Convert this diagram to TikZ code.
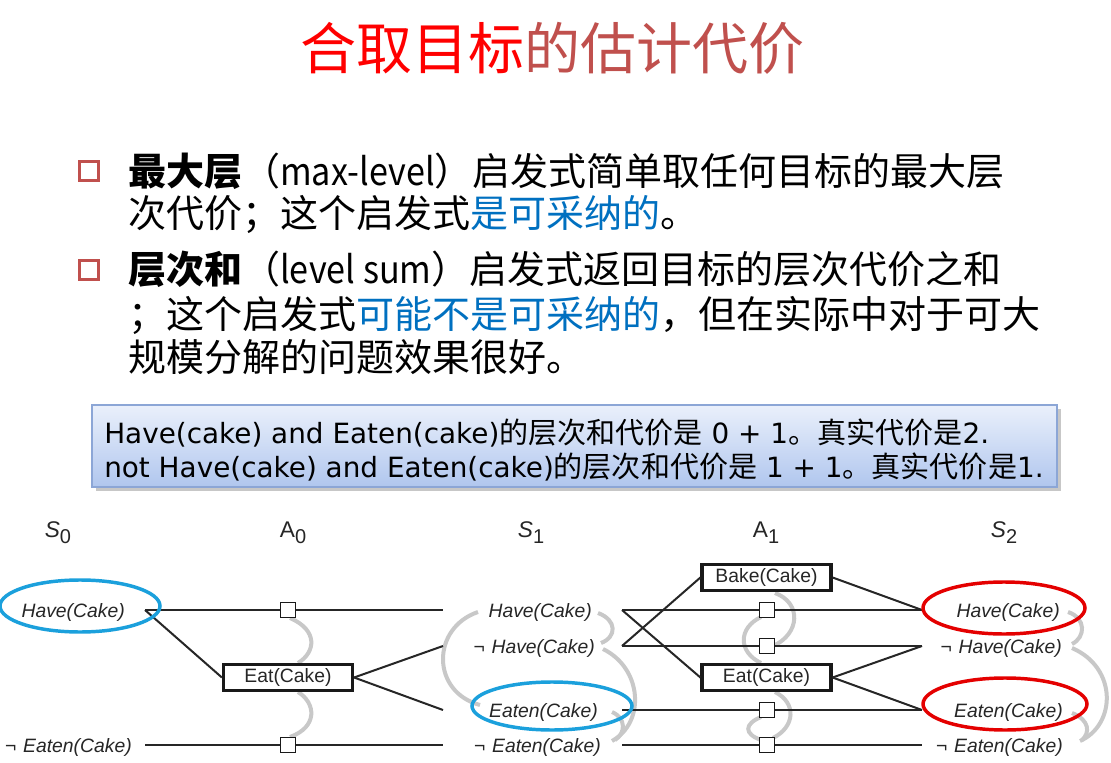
\documentclass[tikz,border=0pt]{standalone}
\usepackage{fontspec}
\usepackage{graphicx}
\setmainfont{Liberation Sans}
\newfontfamily\cjk{Noto Sans CJK SC}
\newfontfamily\vfont{DejaVu Sans}
\usetikzlibrary{shapes.geometric}
\definecolor{titlered}{RGB}{255,0,0}
\definecolor{titlebrown}{RGB}{192,80,77}
\definecolor{linkblue}{RGB}{0,112,192}
\definecolor{ellblue}{RGB}{27,160,220}
\definecolor{ellred}{RGB}{228,0,0}
\definecolor{mutexgray}{RGB}{200,200,200}
\definecolor{boxtop}{RGB}{234,240,251}
\definecolor{boxbot}{RGB}{176,198,238}
\definecolor{boxline}{RGB}{140,166,214}
\newcommand\boxlatin[1]{{\vfont\fontsize{20.9}{26}\selectfont #1}}
\newcommand\bulletlatin[1]{\scalebox{0.9}[1]{#1}}
\begin{document}
\begin{tikzpicture}[x=0.75pt,y=-0.75pt,
  lbl/.style={font=\itshape\fontsize{14.5}{17}\selectfont, inner sep=0, anchor=base east, text=black!85},
  hdr/.style={font=\fontsize{17}{20}\selectfont, inner sep=0, anchor=base, text=black!85},
  actbox/.style={draw=black!90, line width=2.4pt, fill=white, minimum width=96.75pt, minimum height=19pt, inner sep=0, font=\fontsize{14.5}{17}\selectfont, text=black!85},
  persq/.style={draw=black!90, line width=1.4pt, fill=white, minimum size=11.25pt, inner sep=0},
  conn/.style={line width=1.5pt, draw=black!85},
  mutex/.style={line width=3pt, draw=mutexgray},
  hl/.style={line width=2.6pt},
  bt/.style={font=\cjk\fontsize{28.5}{34}\selectfont, inner sep=0, anchor=base west},
  boxtxt/.style={font=\cjk\fontsize{21.8}{26}\selectfont, inner sep=0, anchor=base west},
  bulletsq/.style={draw=titlebrown, line width=2pt, minimum size=14pt, inner sep=0}
]
\useasboundingbox (0,0) rectangle (1111,763);
\fill[white] (0,0) rectangle (1111,763);

% title
\node[inner sep=0] (title) at (552,48) {\cjk\fontsize{42}{50}\selectfont\textcolor{titlered}{合取目标}\textcolor{titlebrown}{的估计代价}};

% bullets
\node[bulletsq] (b1) at (89,171) {};
\node[bulletsq] (b2) at (89,270) {};
\node[bt] (l1) at (128,186) {{\bfseries 最大层}（\bulletlatin{max-level}）启发式简单取任何目标的最大层};
\node[bt] (l2) at (128,228) {次代价；这个启发式\textcolor{linkblue}{是可采纳的}。};
\node[bt] (l3) at (128,284) {{\bfseries 层次和}（\bulletlatin{level sum}）启发式返回目标的层次代价之和};
\node[bt] (l4) at (128,329) {；这个启发式\textcolor{linkblue}{可能不是可采纳的}，但在实际中对于可大};
\node[bt] (l5) at (128,371) {规模分解的问题效果很好。};

% explanation box
\fill[black!22] (96,409) rectangle (1061,491);
\shade[top color=boxtop, bottom color=boxbot, draw=boxline, line width=0.8pt] (92,405) rectangle (1057,487);
\node[boxtxt] (t1) at (104,443) {\boxlatin{Have(cake) and Eaten(cake)}的层次和代价是\boxlatin{ 0 + 1}。真实代价是\boxlatin{2.}};
\node[boxtxt] (t2) at (104,477) {\boxlatin{not Have(cake) and Eaten(cake)}的层次和代价是\boxlatin{ 1 + 1}。真实代价是\boxlatin{1.}};

% headers
\node[hdr] (hs0) at (58,537) {\textit{S}\raisebox{-5pt}{\fontsize{15}{16}\selectfont 0}};
\node[hdr] (ha0) at (293,537) {A\raisebox{-5pt}{\fontsize{15}{16}\selectfont 0}};
\node[hdr] (hs1) at (531,537) {\textit{S}\raisebox{-5pt}{\fontsize{15}{16}\selectfont 1}};
\node[hdr] (ha1) at (766,537) {A\raisebox{-5pt}{\fontsize{15}{16}\selectfont 1}};
\node[hdr] (hs2) at (1004,537) {\textit{S}\raisebox{-5pt}{\fontsize{15}{16}\selectfont 2}};

% mutex links
\draw[mutex] (290,618) .. controls (318,630) and (316,652) .. (298,663);
\draw[mutex] (298,692) .. controls (316,703) and (318,727) .. (290,737);
\draw[mutex] (478,612) .. controls (431,628) and (431,692) .. (480,705);
\draw[mutex] (598,613) .. controls (617,620) and (617,637) .. (601,643);
\draw[mutex] (603,649) .. controls (642,668) and (646,722) .. (612,741);
\draw[mutex] (612,712) .. controls (626,718) and (626,733) .. (615,740);
\draw[mutex] (775,593) .. controls (802,603) and (800,634) .. (773,646);
\draw[mutex] (761,617) .. controls (738,628) and (738,652) .. (761,663);
\draw[mutex] (775,692) .. controls (797,703) and (795,727) .. (773,738);
\draw[mutex] (761,717) .. controls (744,724) and (744,734) .. (761,740);
\draw[mutex] (1068,612) .. controls (1086,618) and (1086,637) .. (1072,644);
\draw[mutex] (1072,648) .. controls (1118,668) and (1116,725) .. (1080,741);
\draw[mutex] (1072,713) .. controls (1090,720) and (1090,733) .. (1082,740);

% line end points
\coordinate (s0hR) at (145,610);
\coordinate (s0neR) at (145,745);
\coordinate (s1hL) at (443,610);
\coordinate (s1nhL) at (443,646);
\coordinate (s1eL) at (443,710);
\coordinate (s1neL) at (443,745);
\coordinate (s1hR) at (622,610);
\coordinate (s1nhR) at (622,646);
\coordinate (s1eR) at (622,710);
\coordinate (s1neR) at (622,745);
\coordinate (s2hL) at (922,610);
\coordinate (s2nhL) at (922,646);
\coordinate (s2eL) at (922,710);
\coordinate (s2neL) at (922,745);

% actions and persistence squares
\node[actbox] (eat0) at (288,677.5) {Eat(Cake)};
\node[actbox] (bake1) at (766.5,577.5) {Bake(Cake)};
\node[actbox] (eat1) at (766.5,677.5) {Eat(Cake)};
\node[persq] (pa0h) at (288,610) {};
\node[persq] (pa0ne) at (288,745) {};
\node[persq] (pa1h) at (767,610) {};
\node[persq] (pa1nh) at (767,646) {};
\node[persq] (pa1e) at (767,710) {};
\node[persq] (pa1ne) at (767,745) {};

% connectors
\draw[conn] (s0hR) -- (pa0h) -- (s1hL);
\draw[conn] (s0neR) -- (pa0ne) -- (s1neL);
\draw[conn] (s0hR) -- (eat0.west);
\draw[conn] (eat0.east) -- (s1nhL);
\draw[conn] (eat0.east) -- (s1eL);
\draw[conn] (s1hR) -- (pa1h) -- (s2hL);
\draw[conn] (s1nhR) -- (pa1nh) -- (s2nhL);
\draw[conn] (s1eR) -- (pa1e) -- (s2eL);
\draw[conn] (s1neR) -- (pa1ne) -- (s2neL);
\draw[conn] (s1hR) -- (eat1.west);
\draw[conn] (s1nhR) -- (bake1.west);
\draw[conn] (bake1.east) -- (s2hL);
\draw[conn] (eat1.east) -- (s2nhL);
\draw[conn] (eat1.east) -- (s2eL);

% state labels
\node[lbl] (s0h) at (125,617) {Have(Cake)};
\node[lbl] (s0ne) at (132,752) {¬\hspace{0.35em}Eaten(Cake)};
\node[lbl] (s1h) at (592,617) {Have(Cake)};
\node[lbl] (s1nh) at (595,653) {¬\hspace{0.35em}Have(Cake)};
\node[lbl] (s1e) at (598,717) {Eaten(Cake)};
\node[lbl] (s1ne) at (601,752) {¬\hspace{0.35em}Eaten(Cake)};
\node[lbl] (s2h) at (1060,617) {Have(Cake)};
\node[lbl] (s2nh) at (1062,653) {¬\hspace{0.35em}Have(Cake)};
\node[lbl] (s2e) at (1063,717) {Eaten(Cake)};
\node[lbl] (s2ne) at (1063,752) {¬\hspace{0.35em}Eaten(Cake)};

% highlight ellipses
\draw[hl, ellblue] (80,606) ellipse [x radius=80, y radius=26];
\draw[hl, ellblue] (552,706) ellipse [x radius=80, y radius=24];
\draw[hl, ellred] (1004,608) ellipse [x radius=81, y radius=26];
\draw[hl, ellred] (1005,704) ellipse [x radius=82, y radius=26];
\end{tikzpicture}
\end{document}
